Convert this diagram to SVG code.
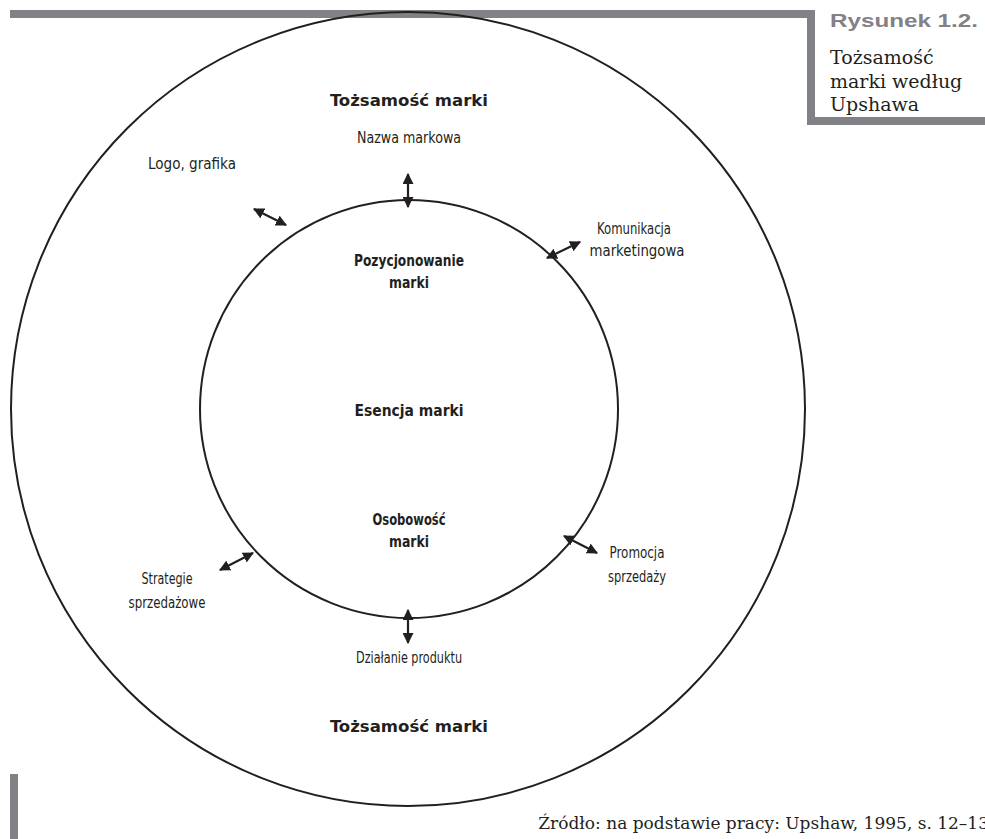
<svg xmlns="http://www.w3.org/2000/svg" width="985" height="839" viewBox="0 0 985 839">
<defs>
<marker id="ah" viewBox="0 0 10 10" refX="9" refY="5" markerWidth="5" markerHeight="5" orient="auto-start-reverse" markerUnits="strokeWidth">
<path d="M0,0 L10,5 L0,10 Z" fill="#231f20"/>
</marker>
<style>
.bar{fill:#818186}
.circ{fill:none;stroke:#231f20;stroke-width:2}
.arr{stroke:#231f20;stroke-width:2.2;fill:none;marker-start:url(#ah);marker-end:url(#ah)}
.lbl{font-family:"DejaVu Sans Condensed","Liberation Sans",sans-serif;font-size:16px;fill:#231f20;text-anchor:middle}
.b{font-weight:bold}
.ser{font-family:"DejaVu Serif","Liberation Serif",serif;fill:#231f20}
</style>
</defs>
<rect width="985" height="839" fill="#fff"/>
<g id="frame">
<rect class="bar" x="10" y="10" width="805" height="8"/>
<rect class="bar" x="807" y="10" width="8" height="115"/>
<rect class="bar" x="807" y="117" width="178" height="8"/>
<rect class="bar" x="10" y="774" width="8" height="65"/>
</g>
<g id="caption">
<text x="830" y="27" font-family="Liberation Sans,Arial,sans-serif" font-weight="bold" font-size="19" fill="#818186" textLength="148" lengthAdjust="spacingAndGlyphs">Rysunek 1.2.</text>
<text class="ser" x="830" y="64" font-size="19">Tożsamość</text>
<text class="ser" x="830" y="88" font-size="19">marki według</text>
<text class="ser" x="830" y="111" font-size="19">Upshawa</text>
</g>
<g id="outer">
<circle class="circ" cx="408" cy="409" r="397"/>
<text class="lbl b" x="409" y="106" font-size="19" textLength="158" lengthAdjust="spacingAndGlyphs">Tożsamość marki</text>
<text class="lbl b" x="409" y="732" font-size="19" textLength="158" lengthAdjust="spacingAndGlyphs">Tożsamość marki</text>
</g>
<g id="inner">
<circle class="circ" cx="409" cy="409" r="209"/>
<text class="lbl b" x="409" y="266" font-size="17" textLength="110" lengthAdjust="spacingAndGlyphs">Pozycjonowanie</text>
<text class="lbl b" x="409" y="288" font-size="17" textLength="40" lengthAdjust="spacingAndGlyphs">marki</text>
<text class="lbl b" x="409" y="416" font-size="21" textLength="109" lengthAdjust="spacingAndGlyphs">Esencja marki</text>
<text class="lbl b" x="409" y="525" font-size="17" textLength="73" lengthAdjust="spacingAndGlyphs">Osobowość</text>
<text class="lbl b" x="409" y="547" font-size="17" textLength="40" lengthAdjust="spacingAndGlyphs">marki</text>
</g>
<g id="n-nazwa"><text class="lbl" x="409" y="143" textLength="104" lengthAdjust="spacingAndGlyphs">Nazwa markowa</text></g>
<g id="n-logo"><text class="lbl" x="192" y="169" textLength="88" lengthAdjust="spacingAndGlyphs">Logo, grafika</text></g>
<g id="n-komunikacja"><text class="lbl" x="634" y="234" textLength="74" lengthAdjust="spacingAndGlyphs">Komunikacja</text><text class="lbl" x="637" y="256" textLength="95" lengthAdjust="spacingAndGlyphs">marketingowa</text></g>
<g id="n-promocja"><text class="lbl" x="637" y="558" textLength="55" lengthAdjust="spacingAndGlyphs">Promocja</text><text class="lbl" x="637" y="582" textLength="58" lengthAdjust="spacingAndGlyphs">sprzedaży</text></g>
<g id="n-strategie"><text class="lbl" x="167" y="584" textLength="51" lengthAdjust="spacingAndGlyphs">Strategie</text><text class="lbl" x="167" y="608" textLength="77" lengthAdjust="spacingAndGlyphs">sprzedażowe</text></g>
<g id="n-dzialanie"><text class="lbl" x="409" y="663" textLength="106" lengthAdjust="spacingAndGlyphs">Działanie produktu</text></g>
<g id="connectors">
<line class="arr" x1="408" y1="174" x2="408" y2="207"/>
<line class="arr" x1="254" y1="209" x2="286" y2="225"/>
<line class="arr" x1="547" y1="258" x2="580" y2="242"/>
<line class="arr" x1="564" y1="536" x2="597" y2="553"/>
<line class="arr" x1="220" y1="570" x2="253" y2="553"/>
<line class="arr" x1="408" y1="610" x2="408" y2="643"/>
</g>
<g id="source">
<text class="ser" x="989" y="829" font-size="17" text-anchor="end">Źródło: na podstawie pracy: Upshaw, 1995, s. 12–13</text>
</g>
</svg>
